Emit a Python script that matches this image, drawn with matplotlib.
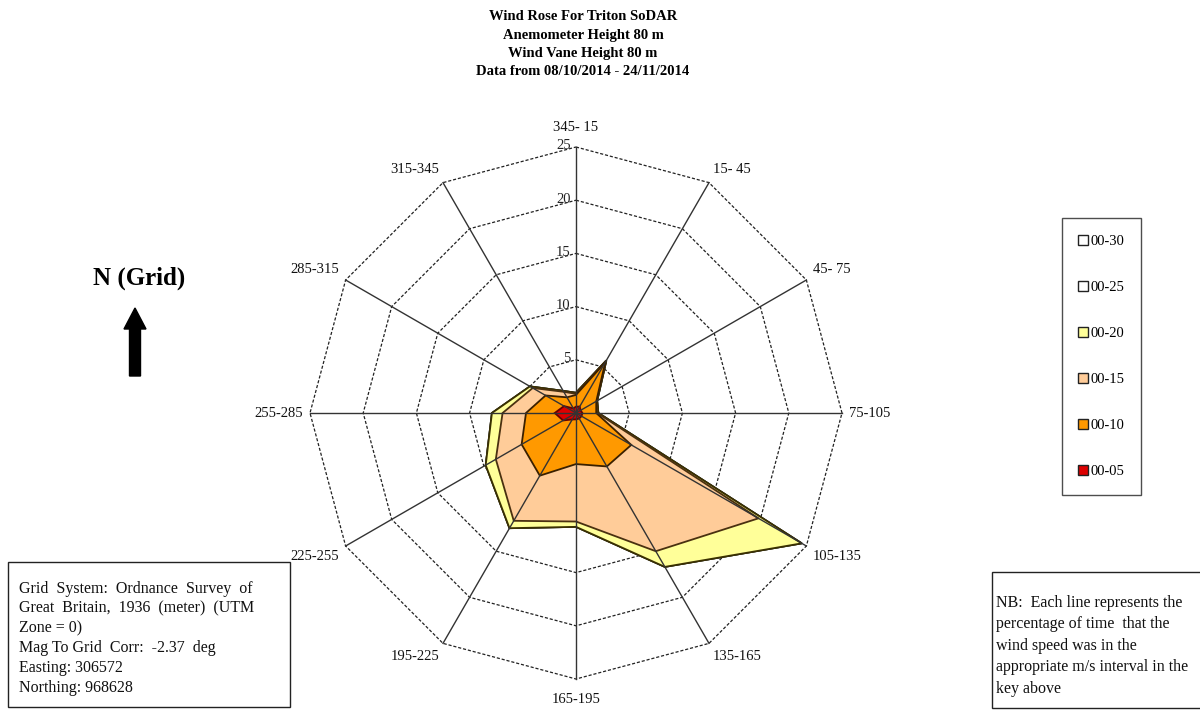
import numpy as np
import matplotlib
matplotlib.use("Agg")
import matplotlib.pyplot as plt
from matplotlib.patches import Rectangle, FancyArrow
from matplotlib.lines import Line2D

plt.rcParams['font.family'] = ['Liberation Serif', 'DejaVu Serif']

# ---------------- data ----------------
directions = ["345- 15", "15- 45", "45- 75", "75-105", "105-135", "135-165",
              "165-195", "195-225", "225-255", "255-285", "285-315", "315-345"]
angles_deg = [0, 30, 60, 90, 120, 150, 180, 210, 240, 270, 300, 330]
r_ticks = [5, 10, 15, 20, 25]

series_names = ["00-30", "00-25", "00-20", "00-15", "00-10", "00-05"]
s30 = [1.9, 5.7, 2.3, 2.1, 24.5, 16.7, 10.7, 12.5, 9.8, 7.9, 5.0, 2.4]
s25 = [1.9, 5.7, 2.3, 2.1, 24.5, 16.7, 10.7, 12.5, 9.8, 7.9, 5.0, 2.4]
s20 = [1.9, 5.7, 2.3, 2.1, 24.5, 16.7, 10.7, 12.5, 9.8, 7.9, 5.0, 2.4]
s15 = [1.8, 5.6, 2.2, 2.0, 19.8, 15.0, 10.2, 11.7, 8.7, 6.9, 4.7, 2.3]
s10 = [1.7, 5.5, 2.2, 1.9, 6.0, 5.8, 4.8, 6.8, 5.9, 4.7, 3.3, 1.7]
s05 = [0.6, 0.7, 0.5, 0.6, 0.6, 0.6, 0.6, 0.7, 1.4, 2.0, 1.3, 0.5]
series_values = [s30, s25, s20, s15, s10, s05]
fill_colors = ["#FFFFFF", "#FFFFFF", "#FFFF99", "#FFCC99", "#FF9900", "#DD0000"]
edge_colors = ["#333333", "#333333", "#3a3000", "#4a3010", "#3a2000", "#660000"]

title_lines = ["Wind Rose For Triton SoDAR", "Anemometer Height 80 m",
               "Wind Vane Height 80 m", "Data from 08/10/2014 - 24/11/2014"]
info_text = ("Grid  System:  Ordnance  Survey  of\nGreat  Britain,  1936  (meter)  (UTM\n"
             "Zone = 0)\nMag To Grid  Corr:  -2.37  deg\nEasting: 306572\nNorthing: 968628")
nb_text = ("NB:  Each line represents the\npercentage of time  that the\n"
           "wind speed was in the\nappropriate m/s interval in the\nkey above")

# ---------------- figure ----------------
W, H = 1200, 710
fig = plt.figure(figsize=(W / 100, H / 100), dpi=100)

cx, cy, R = 576, 413, 266.0       # centre / radius in pixels (from top)
rmax = 25
lim = 26.0
half = R * lim / rmax
ax = fig.add_axes([(cx - half) / W, (H - cy - half) / H, 2 * half / W, 2 * half / H])
ax.set_xlim(-lim, lim)
ax.set_ylim(-lim, lim)
ax.set_aspect('equal')
ax.axis('off')

th = np.deg2rad(np.array(angles_deg, dtype=float))
sx, sy = np.sin(th), np.cos(th)

def closed(v):
    v = np.asarray(v, dtype=float)
    x = v * sx
    y = v * sy
    return np.append(x, x[0]), np.append(y, y[0])

# dashed polygon rings (below fills)
for rt in r_ticks:
    x, y = closed([rt] * len(angles_deg))
    ax.plot(x, y, color="#222222", lw=0.9, ls=(0, (2.5, 1.5)), zorder=1)

# filled series
for i, (vals, fc, ec) in enumerate(zip(series_values, fill_colors, edge_colors)):
    x, y = closed(vals)
    ax.fill(x, y, facecolor=fc, edgecolor=ec, lw=1.3, zorder=2 + i)

# solid spokes over fills
for a in range(len(angles_deg)):
    ax.plot([0, rmax * sx[a]], [0, rmax * sy[a]], color="#333333", lw=1.0, zorder=10)

# radial tick labels
for rt in r_ticks:
    ax.text(-0.5, rt + 0.1, str(rt), ha='right', va='center', fontsize=10.5, color="#222222", zorder=11)

# direction labels
for a, lab in zip(angles_deg, directions):
    t = np.deg2rad(a)
    rr = 25.7
    x, y = rr * np.sin(t), rr * np.cos(t)
    if a == 0:
        ha, va = 'center', 'bottom'; y += 0.5
    elif a == 180:
        ha, va = 'center', 'top'; y -= 0.6
    elif a == 90:
        ha, va = 'left', 'center'
    elif a == 270:
        ha, va = 'right', 'center'
    elif a < 90:
        ha, va = 'left', 'bottom'
    elif a < 180:
        ha, va = 'left', 'top'
    elif a < 270:
        ha, va = 'right', 'top'
    else:
        ha, va = 'right', 'bottom'
    ax.text(x, y, lab, ha=ha, va=va, fontsize=10.5, color="#111111", clip_on=False)

# title
for k, line in enumerate(title_lines):
    fig.text(583 / W, 1 - (17 + 18.3 * k) / H, line, ha='center', va='center',
             fontsize=10.5, fontweight='bold')

# N (Grid) and arrow
fig.text(139 / W, 1 - 278 / H, "N (Grid)", ha='center', va='center',
         fontsize=18, fontweight='bold')
arrow = FancyArrow(1.35, (H - 376) / 100, 0, 0.68, width=0.11, head_width=0.22,
                   head_length=0.21, length_includes_head=True, color='black',
                   transform=fig.dpi_scale_trans)
fig.patches.append(arrow)

# legend
handles = [Line2D([], [], ls='none', marker='s', markersize=6.5, markerfacecolor=fc,
                  markeredgecolor='#222222', markeredgewidth=1.0)
           for fc in fill_colors]
leg = fig.legend(handles, series_names, loc='upper left',
                 bbox_to_anchor=(1062 / W, 1 - 218 / H), frameon=True, fancybox=False,
                 edgecolor='#222222', fontsize=10.5, labelspacing=2.25,
                 handlelength=0.6, handletextpad=0.2, borderpad=1.15,
                 borderaxespad=0)
leg.get_frame().set_linewidth(1.0)

# info box (bottom left)
fig.patches.append(Rectangle((8 / W, 1 - 707 / H), 282 / W, 145 / H, transform=fig.transFigure,
                             facecolor='white', edgecolor='#222222', lw=1.0))
fig.text(19 / W, 1 - 581 / H, info_text, ha='left', va='top', fontsize=11.5,
         linespacing=1.31, color="#111111")

# NB box (bottom right)
fig.patches.append(Rectangle((992 / W, 1 - 708 / H), 220 / W, 136 / H, transform=fig.transFigure,
                             facecolor='white', edgecolor='#222222', lw=1.0, clip_on=False))
fig.text(996 / W, 1 - 595 / H, nb_text, ha='left', va='top', fontsize=11.5,
         linespacing=1.45, color="#111111")

fig.savefig("out.png", dpi=100, facecolor='white')
